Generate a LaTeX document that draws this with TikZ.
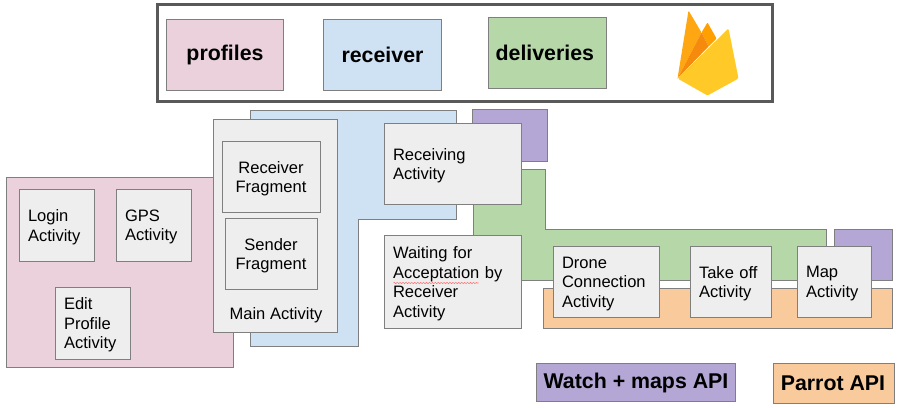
\documentclass[tikz,border=0pt]{standalone}
\usepackage{fontspec}
\setmainfont{Liberation Sans}
\usetikzlibrary{decorations.pathmorphing}
\definecolor{pinkc}{HTML}{EAD1DC}
\definecolor{bluec}{HTML}{CFE2F3}
\definecolor{greenc}{HTML}{B6D7A8}
\definecolor{purplec}{HTML}{B4A7D6}
\definecolor{orangec}{HTML}{F9CB9C}
\definecolor{boxc}{HTML}{EEEEEE}
\definecolor{linec}{HTML}{7F7F7F}
\definecolor{framec}{HTML}{595959}
\tikzset{
  area/.style={draw=linec,line width=0.9pt,line join=miter},
  legendbox/.style={area,rectangle,inner sep=0pt,font=\fontsize{16}{19}\selectfont\bfseries},
  actbox/.style={area,rectangle,fill=boxc,inner sep=0pt},
  acttext/.style={inner sep=0pt,font=\fontsize{12.4}{14.6}\selectfont},
}
% x1, y1, x2, y2, name, fill, text
\newcommand{\legendnode}[7]{%
  \pgfmathsetmacro{\boxw}{(#3-#1)*0.75}\pgfmathsetmacro{\boxh}{(#4-#2)*0.75}%
  \node[legendbox,fill=#6,minimum width=\boxw pt,minimum height=\boxh pt] (#5) at ({(#1+#3)/2},{(#2+#4)/2}) {#7\hspace{1.5pt}};}
% [align] x1, y1, x2, y2, name, text
\newcommand{\actnode}[7][left]{%
  \pgfmathsetmacro{\boxw}{(#4-#2)*0.75}\pgfmathsetmacro{\boxh}{(#5-#3)*0.75}\pgfmathsetmacro{\boxt}{(#4-#2-18)*0.75}%
  \node[actbox,minimum width=\boxw pt,minimum height=\boxh pt] (#6) at ({(#2+#4)/2},{(#3+#5)/2}) {};
  \node[acttext,text width=\boxt pt,align=#1] (#6-text) at ({(#2+#4)/2-0.5},{(#3+#5)/2+1.6}) {#7};}
\begin{document}
\begin{tikzpicture}[x=0.75pt,y=-0.75pt]
\useasboundingbox (-0.5,-0.5) rectangle (897.5,406.5);
% top frame
\draw[draw=framec,line width=2.4pt] (157,4) rectangle (772,101);
\legendnode{166}{19}{283}{90}{profiles}{pinkc}{profiles}
\legendnode{323}{19}{441}{90}{receiver}{bluec}{receiver}
\legendnode{488}{17}{606}{88}{deliveries}{greenc}{deliveries\hspace{4pt}}
% firebase logo
\fill[fill={rgb,255:red,255;green,167;blue,18},rounded corners=0.8pt] (677,78) -- (688,10) -- (701,32) -- cycle;
\fill[fill={rgb,255:red,255;green,160;blue,0},rounded corners=0.6pt] (701,32) -- (707,22) -- (716,38) -- (708,46) -- cycle;
\fill[fill={rgb,255:red,245;green,138;blue,12}] (677,78) -- (701,32) -- (708,46) -- cycle;
\fill[fill={rgb,255:red,255;green,202;blue,40},rounded corners=1pt] (677,78) -- (728,28) -- (738,78) -- (707,95) -- cycle;
% background areas
\draw[area,fill=pinkc] (6,177) rectangle (233,367);
\draw[area,fill=bluec] (250,110) -- (456,110) -- (456,219) -- (358,219) -- (358,346) -- (250,346) -- cycle;
\draw[area,fill=purplec] (472,109) rectangle (547,161);
\draw[area,fill=greenc] (473,169) -- (545,169) -- (545,229) -- (826,229) -- (826,280) -- (473,280) -- cycle;
\draw[area,fill=orangec] (543,288) rectangle (892,328);
\draw[area,fill=purplec] (834,229) rectangle (892,280);
% activities
\actnode{19}{189}{94}{261}{login}{Login\\Activity}
\actnode{116}{189}{191}{261}{gps}{GPS\\Activity}
\actnode{55}{287}{130}{359}{edit}{Edit\\Profile\\Activity}
\actnode{213}{119}{337}{332}{main}{}
\actnode[center]{222}{141}{320}{212}{recv}{Receiver\\Fragment}
\actnode[center]{225}{218}{317}{289}{send}{Sender\\Fragment}
\node[acttext,anchor=base] (mainlabel) at (275.5,319) {Main Activity};
\actnode{384}{123}{521}{204}{receiving}{Receiving\\Activity}
\actnode{384}{235}{521}{328}{waiting}{Waiting for\\Acceptation by\\Receiver\\Activity}
\draw[draw=red!55!white,line width=0.4pt,decorate,decoration={zigzag,segment length=2.2pt,amplitude=0.5pt}] (393,282.5) -- (478,282.5);
\actnode{553}{246}{659}{317}{drone}{Drone\\Connection\\Activity}
\actnode{690}{246}{771}{317}{takeoff}{Take off\\Activity}
\actnode{797}{246}{871}{317}{map}{Map\\Activity}
% legend bottom
\legendnode{536}{363}{735}{401}{watch}{purplec}{Watch + maps API}
\legendnode{773}{363}{894}{403}{parrot}{orangec}{Parrot API\hspace{1.5pt}}
\end{tikzpicture}
\end{document}
